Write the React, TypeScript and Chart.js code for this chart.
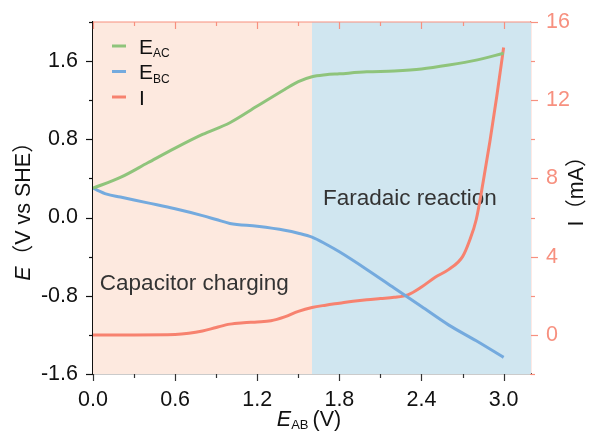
import React, { useEffect, useRef } from "react";
import { Chart, registerables } from "chart.js";

Chart.register(...registerables);

// ---- data ----
const xAC = [0, 0.2, 0.4, 0.6, 0.8, 1.0, 1.2, 1.4, 1.5, 1.6, 1.7, 1.8, 2.0, 2.2, 2.4, 2.6, 2.8, 3.0];
const eAC = [0.30, 0.41, 0.56, 0.71, 0.85, 0.97, 1.14, 1.31, 1.39, 1.44, 1.46, 1.47, 1.49, 1.50, 1.52, 1.56, 1.61, 1.68];

const xBC = [0, 0.1, 0.2, 0.3, 0.4, 0.6, 0.8, 0.9, 1.0, 1.2, 1.4, 1.5, 1.6, 1.7, 1.8, 2.0, 2.2, 2.4, 2.6, 2.8, 3.0];
const eBC = [0.30, 0.24, 0.21, 0.18, 0.15, 0.09, 0.02, -0.02, -0.06, -0.09, -0.13, -0.16, -0.20, -0.27, -0.35, -0.53, -0.72, -0.91, -1.10, -1.26, -1.43];

const xI = [0, 0.3, 0.6, 0.7, 0.8, 0.9, 1.0, 1.1, 1.2, 1.3, 1.4, 1.5, 1.6, 1.7, 1.8, 1.9, 2.0, 2.1, 2.2, 2.3, 2.4, 2.5, 2.6, 2.7, 2.75, 2.8, 2.85, 2.9, 2.95, 3.0];
const iVals = [0, 0, 0.02, 0.08, 0.2, 0.38, 0.55, 0.62, 0.66, 0.72, 0.92, 1.2, 1.4, 1.52, 1.62, 1.72, 1.8, 1.86, 1.92, 2.05, 2.45, 2.95, 3.35, 4.0, 4.8, 5.9, 7.8, 9.9, 12.2, 14.7];

const xTicks = [0, 0.6, 1.2, 1.8, 2.4, 3.0];
const yTicks = [-1.6, -0.8, 0.0, 0.8, 1.6];
const y1Ticks = [0, 4, 8, 12, 16];

const regionBounds = [0, 1.6, 3.2];
const regionLabels = ["Capacitor charging", "Faradaic reaction"];

const seriesNames = ["E", "E", "I"];
const seriesSubs = ["AC", "BC", ""];

// ---- style ----
const GREEN = "#8fc47b";
const BLUE = "#74aade";
const RED = "#f7826f";
const SALMON = "#f7907f";
const regionColors = ["#fde9df", "#d0e6f0"];
const FONT = "'Liberation Sans', Arial, 'Noto Sans CJK SC', sans-serif";

const toPts = (xs: number[], ys: number[]) => xs.map((x, i) => ({ x, y: ys[i] }));

const decoPlugin = {
  id: "deco",
  beforeDatasetsDraw(chart: any) {
    const { ctx, chartArea: a, scales } = chart;
    const x = scales.x;
    const y = scales.y;
    ctx.save();
    for (let i = 0; i < regionBounds.length - 1; i++) {
      const x0 = x.getPixelForValue(regionBounds[i]);
      const x1 = x.getPixelForValue(regionBounds[i + 1]);
      ctx.fillStyle = regionColors[i];
      ctx.fillRect(x0, a.top, x1 - x0, a.bottom - a.top);
    }
    ctx.fillStyle = "#333333";
    ctx.font = `22.5px ${FONT}`;
    ctx.textBaseline = "alphabetic";
    ctx.textAlign = "left";
    ctx.fillText(regionLabels[0], x.getPixelForValue(0.05), y.getPixelForValue(-0.74));
    ctx.fillText(regionLabels[1], x.getPixelForValue(1.68), y.getPixelForValue(0.13));
    ctx.restore();
  },
  afterDraw(chart: any) {
    const { ctx, chartArea: a, scales } = chart;
    const x = scales.x;
    const y = scales.y;
    const y1 = scales.y1;
    const MAJ = 7;
    const MIN = 4;
    ctx.save();
    ctx.lineWidth = 1.2;
    // top border
    ctx.strokeStyle = SALMON;
    ctx.beginPath();
    ctx.moveTo(a.left, a.top);
    ctx.lineTo(a.right, a.top);
    ctx.stroke();
    // x ticks (bottom outward, top inward)
    for (let k = 0; k <= 10; k++) {
      const v = k * 0.3;
      const px = Math.round(x.getPixelForValue(v)) + 0.5;
      const len = k % 2 === 0 ? MAJ : MIN;
      ctx.strokeStyle = "#333";
      ctx.beginPath();
      ctx.moveTo(px, a.bottom);
      ctx.lineTo(px, a.bottom + len);
      ctx.stroke();
      ctx.strokeStyle = SALMON;
      ctx.beginPath();
      ctx.moveTo(px, a.top);
      ctx.lineTo(px, a.top + len);
      ctx.stroke();
    }
    // left ticks
    ctx.strokeStyle = "#111";
    for (let k = 0; k <= 9; k++) {
      const v = -1.6 + k * 0.4;
      const py = Math.round(y.getPixelForValue(v)) + 0.5;
      const len = k % 2 === 0 ? MAJ : MIN;
      ctx.beginPath();
      ctx.moveTo(a.left - len, py);
      ctx.lineTo(a.left, py);
      ctx.stroke();
    }
    // right ticks
    ctx.strokeStyle = SALMON;
    for (let k = 0; k <= 9; k++) {
      const v = -2 + k * 2;
      const py = Math.round(y1.getPixelForValue(v)) + 0.5;
      const len = k % 2 === 1 ? MAJ : MIN;
      ctx.beginPath();
      ctx.moveTo(a.right, py);
      ctx.lineTo(a.right + len, py);
      ctx.stroke();
    }
    // legend
    const colors = [GREEN, BLUE, RED];
    for (let i = 0; i < 3; i++) {
      const ly = a.top + 24 + i * 25.5;
      ctx.strokeStyle = colors[i];
      ctx.lineWidth = 3;
      ctx.beginPath();
      ctx.moveTo(a.left + 19, ly);
      ctx.lineTo(a.left + 33, ly);
      ctx.stroke();
      ctx.fillStyle = "#111";
      ctx.textAlign = "left";
      ctx.textBaseline = "alphabetic";
      ctx.font = `21px ${FONT}`;
      const tx = a.left + 46;
      ctx.fillText(seriesNames[i], tx, ly + 7.5);
      const w = ctx.measureText(seriesNames[i]).width;
      if (seriesSubs[i]) {
        ctx.font = `12px ${FONT}`;
        ctx.fillText(seriesSubs[i], tx + w, ly + 11);
      }
    }
    // left axis title
    ctx.fillStyle = "#111";
    ctx.save();
    ctx.translate(24, (a.top + a.bottom) / 2 + 8);
    ctx.rotate(-Math.PI / 2);
    ctx.font = `italic 21.5px ${FONT}`;
    const wE = ctx.measureText("E").width;
    ctx.font = `21.5px ${FONT}`;
    const rest = "（V vs SHE）";
    const wR = ctx.measureText(rest).width;
    const tot = wE + wR;
    ctx.textAlign = "left";
    ctx.textBaseline = "middle";
    ctx.font = `italic 21.5px ${FONT}`;
    ctx.fillText("E", -tot / 2, 0);
    ctx.font = `21.5px ${FONT}`;
    ctx.fillText(rest, -tot / 2 + wE, 0);
    ctx.restore();
    // right axis title
    ctx.save();
    ctx.translate(577, (a.top + a.bottom) / 2 - 12);
    ctx.rotate(-Math.PI / 2);
    ctx.font = `21.5px ${FONT}`;
    ctx.textAlign = "center";
    ctx.textBaseline = "middle";
    ctx.fillText("I（mA）", 0, 0);
    ctx.restore();
    // bottom axis title
    ctx.save();
    ctx.textBaseline = "alphabetic";
    ctx.textAlign = "left";
    ctx.font = `italic 21.5px ${FONT}`;
    const bE = ctx.measureText("E").width;
    ctx.font = `13px ${FONT}`;
    const bS = ctx.measureText("AB").width;
    ctx.font = `21.5px ${FONT}`;
    const bV = ctx.measureText(" (V)").width;
    const bx = (a.left + a.right) / 2 - (bE + bS + bV) / 2 - 2;
    const by = 426;
    ctx.font = `italic 21.5px ${FONT}`;
    ctx.fillText("E", bx, by);
    ctx.font = `13px ${FONT}`;
    ctx.fillText("AB", bx + bE, by + 3);
    ctx.font = `21.5px ${FONT}`;
    ctx.fillText(" (V)", bx + bE + bS - 2, by);
    ctx.restore();
    ctx.restore();
  },
};

const noVPad = (s: any) => {
  s.paddingTop = 0;
  s.paddingBottom = 0;
};

export default function App() {
  const ref = useRef<HTMLCanvasElement | null>(null);
  useEffect(() => {
    if (!ref.current) return;
    const chart = new Chart(ref.current, {
      type: "line",
      data: {
        datasets: [
          { label: "E_AC", data: toPts(xAC, eAC), borderColor: GREEN, yAxisID: "y" },
          { label: "E_BC", data: toPts(xBC, eBC), borderColor: BLUE, yAxisID: "y" },
          { label: "I", data: toPts(xI, iVals), borderColor: RED, yAxisID: "y1" },
        ].map((d) => ({
          ...d,
          borderWidth: 3,
          pointRadius: 0,
          fill: false,
          cubicInterpolationMode: "monotone" as const,
        })),
      },
      options: {
        animation: false,
        responsive: true,
        maintainAspectRatio: false,
        layout: { padding: { top: 22, left: 0, right: 0, bottom: 0 } },
        plugins: { legend: { display: false }, tooltip: { enabled: false } },
        scales: {
          x: {
            type: "linear",
            min: 0,
            max: 3.2,
            afterBuildTicks: (s: any) => {
              s.ticks = xTicks.map((v) => ({ value: v }));
            },
            afterFit: (s: any) => {
              s.height = 60;
              s.paddingLeft = 0;
              s.paddingRight = 0;
            },
            grid: { display: true, drawOnChartArea: false, drawTicks: false, color: "transparent" },
            border: { display: true, color: "#333", width: 1.2 },
            ticks: {
              padding: 13,
              color: "#111",
              font: { family: FONT, size: 21.5 },
              callback: (v: any) => Number(v).toFixed(1),
              maxRotation: 0,
              autoSkip: false,
            },
          },
          y: {
            type: "linear",
            position: "left",
            min: -1.6,
            max: 2.0,
            afterBuildTicks: (s: any) => {
              s.ticks = yTicks.map((v) => ({ value: v }));
            },
            afterFit: (s: any) => {
              s.width = 93;
              noVPad(s);
            },
            grid: { display: true, drawOnChartArea: false, drawTicks: false, color: "transparent" },
            border: { display: true, color: "#111", width: 1.2 },
            ticks: {
              padding: 15,
              color: "#111",
              font: { family: FONT, size: 21.5 },
              callback: (v: any) => Number(v).toFixed(1),
              autoSkip: false,
            },
          },
          y1: {
            type: "linear",
            position: "right",
            min: -2,
            max: 16,
            afterBuildTicks: (s: any) => {
              s.ticks = y1Ticks.map((v) => ({ value: v }));
            },
            afterFit: (s: any) => {
              s.width = 61;
              noVPad(s);
            },
            grid: { display: true, drawOnChartArea: false, drawTicks: false, color: "transparent" },
            border: { display: true, color: SALMON, width: 1.2 },
            ticks: {
              padding: 15,
              color: SALMON,
              font: { family: FONT, size: 21.5 },
              callback: (v: any) => String(v),
              autoSkip: false,
            },
          },
        },
      },
      plugins: [decoPlugin],
    });
    return () => chart.destroy();
  }, []);
  return (
    <div style={{ position: "fixed", left: 0, top: 0, width: 592, height: 434, background: "#fff" }}>
      <canvas ref={ref} />
    </div>
  );
}
